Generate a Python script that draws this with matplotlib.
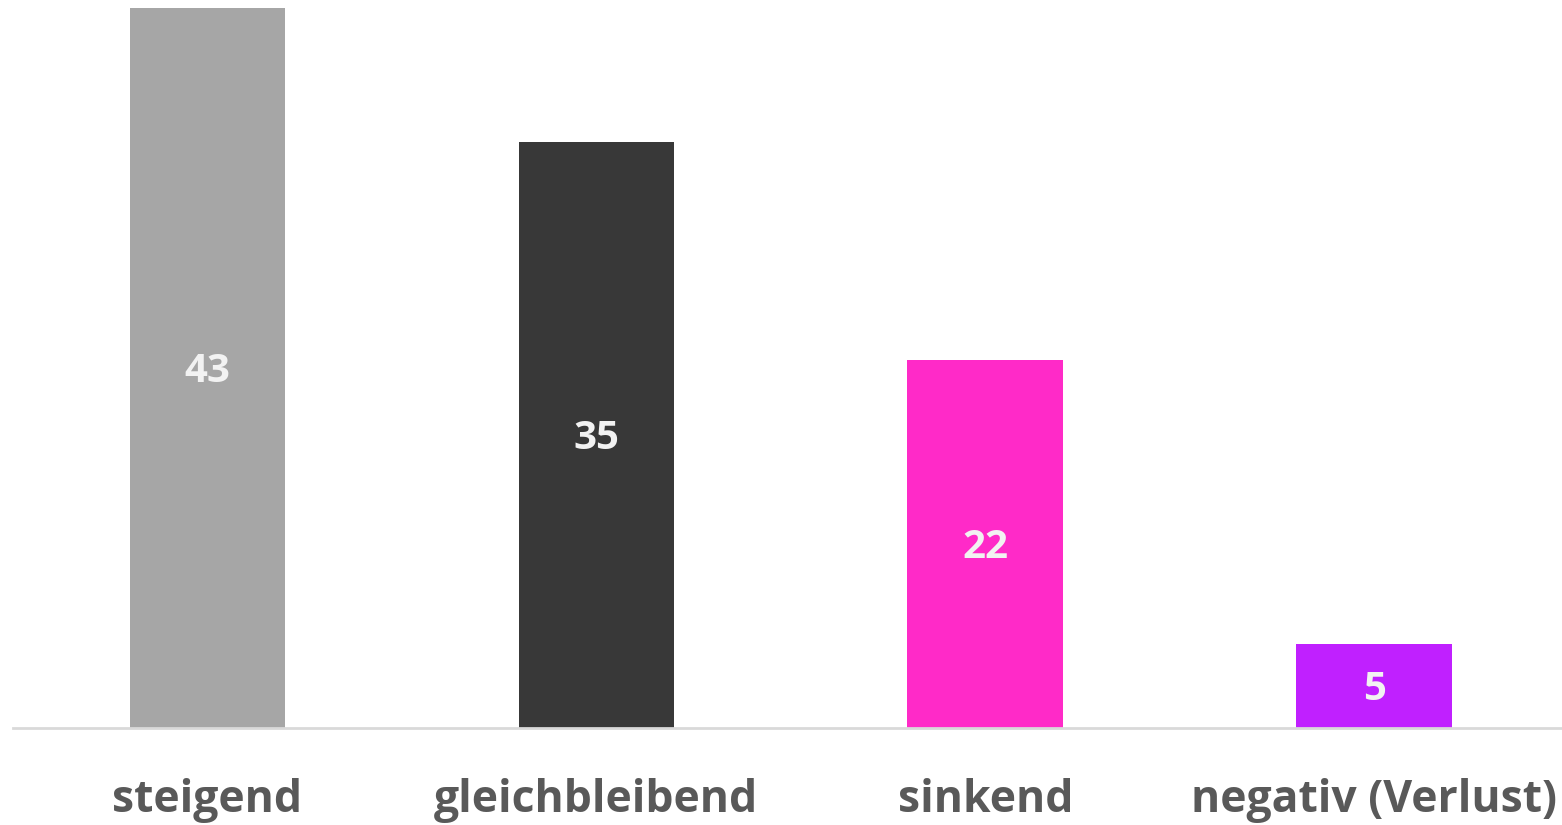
import matplotlib
matplotlib.use("Agg")
import matplotlib.pyplot as plt

categories = ["steigend", "gleichbleibend", "sinkend", "negativ (Verlust)"]
values = [43, 35, 22, 5]
colors = ["#a6a6a6", "#383838", "#ff2ac8", "#c020ff"]

plt.rcParams['font.family'] = ['Open Sans', 'DejaVu Sans']

W, H = 1562, 825
fig = plt.figure(figsize=(W / 100, H / 100), dpi=100)
# axes box in pixel terms: left 13, right edge of figure, baseline at 728, top at 8
ax = fig.add_axes([13 / W, (H - 728) / H, (W - 13) / W, 720 / H])

x = list(range(len(categories)))
bars = ax.bar(x, values, width=0.4, color=colors, zorder=2)
# the last category is cut a bit by the right edge of the picture
ax.set_xlim(-0.5, len(categories) - 0.517)
ax.set_ylim(0, 43)

for b, v in zip(bars, values):
    ax.text(b.get_x() + b.get_width() / 2, v / 2 - 0.2, str(v), ha="center", va="center",
            color="#f2f2f2", fontsize=29, fontweight="bold")

for s in ["top", "right", "left"]:
    ax.spines[s].set_visible(False)
ax.spines["bottom"].set_color("#d9d9d9")
ax.spines["bottom"].set_linewidth(2)
ax.set_yticks([])
ax.set_xticks(x)
ax.set_xticklabels(categories, fontsize=32, fontweight="bold", color="#595959")
ax.tick_params(axis="x", length=0, pad=36)

fig.savefig("out.png", dpi=100)
